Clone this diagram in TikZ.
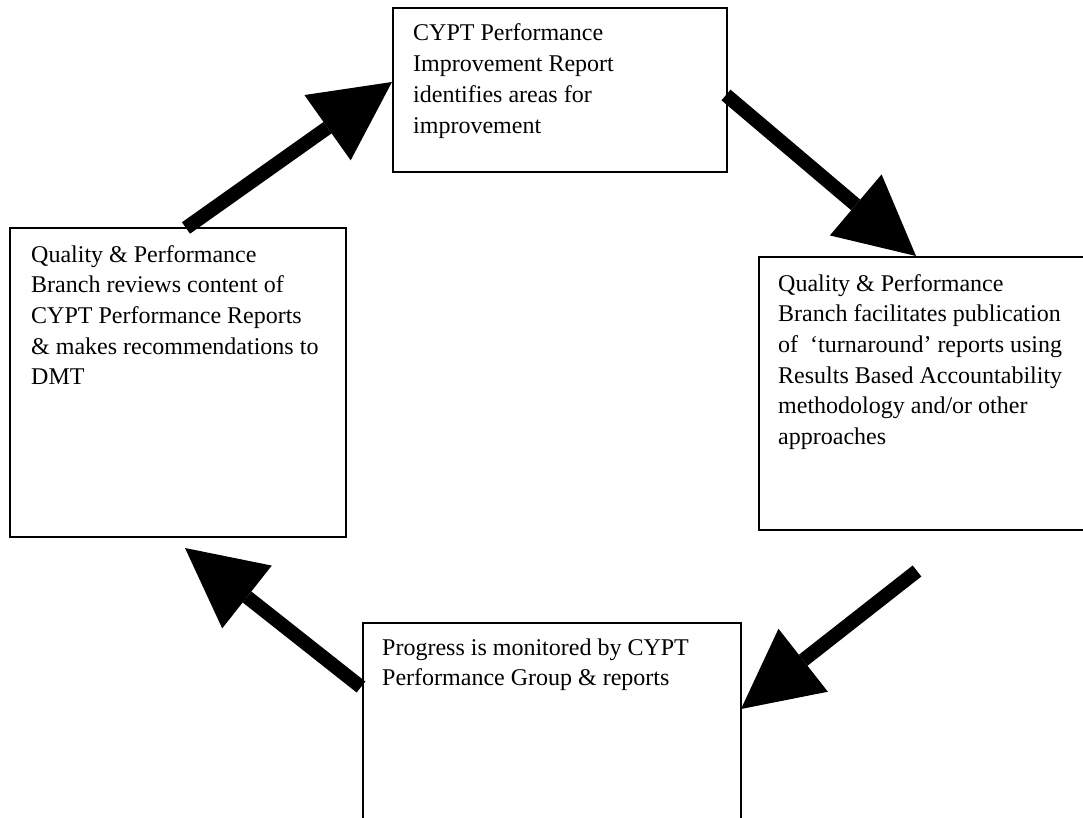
\documentclass[tikz,border=0pt]{standalone}
\usepackage{fontspec}
\setmainfont{Liberation Serif}
\usetikzlibrary{arrows.meta,calc}
\tikzset{
  boxframe/.style={draw=black, line width=1.6pt, rectangle, inner sep=0pt, anchor=north west},
  boxtext/.style={inner sep=0pt, anchor=base west, font=\fontsize{24pt}{30.7pt}\selectfont},
  bigarrow/.style={line width=14pt, line cap=butt, -{Triangle[length=79pt,width=80pt,line width=0pt]}}
}
\newcommand{\boxlines}[2]{\parbox[t]{#1}{\raggedright #2}}
\begin{document}
\begin{tikzpicture}[x=1pt,y=-1pt]
\useasboundingbox (0,0) rectangle (1083,818);
\clip (0,0) rectangle (1083,818);
\fill[white] (0,0) rectangle (1083,818);
% boxes
\node[boxframe, minimum width=334pt, minimum height=164pt] (top) at (392,7) {};
\node[boxframe, minimum width=336pt, minimum height=309pt] (left) at (9,227) {};
\node[boxframe, minimum width=340pt, minimum height=273pt] (right) at (758,256) {};
\node[boxframe, minimum width=378pt, minimum height=220pt] (bottom) at (362,622) {};
% texts
\node[boxtext] (toptext) at ($(top.north west)+(21,34)$) {\boxlines{310pt}{CYPT Performance\\Improvement Report\\identifies areas for\\improvement}};
\node[boxtext] (lefttext) at ($(left.north west)+(22,35)$) {\boxlines{320pt}{Quality \& Performance\\Branch reviews content of\\CYPT Performance Reports\\\& makes recommendations to\\DMT}};
\node[boxtext] (righttext) at ($(right.north west)+(20,35)$) {\boxlines{320pt}{Quality \& Performance\\Branch facilitates publication\\of~ ‘turnaround’ reports using\\Results Based Accountability\\methodology and/or other\\approaches}};
\node[boxtext] (bottomtext) at ($(bottom.north west)+(20,33)$) {\boxlines{360pt}{Progress is monitored by CYPT\\Performance Group \& reports}};
% arrow end points
\coordinate (a1s) at (186,228);
\coordinate (a1e) at (392,82);
\coordinate (a2s) at (726,95);
\coordinate (a2e) at (916,256);
\coordinate (a3s) at (917,571);
\coordinate (a3e) at (741,709);
\coordinate (a4s) at (361,687);
\coordinate (a4e) at (185,548);
\draw[bigarrow] (a1s) -- (a1e);
\draw[bigarrow] (a2s) -- (a2e);
\draw[bigarrow] (a3s) -- (a3e);
\draw[bigarrow] (a4s) -- (a4e);
\end{tikzpicture}
\end{document}
